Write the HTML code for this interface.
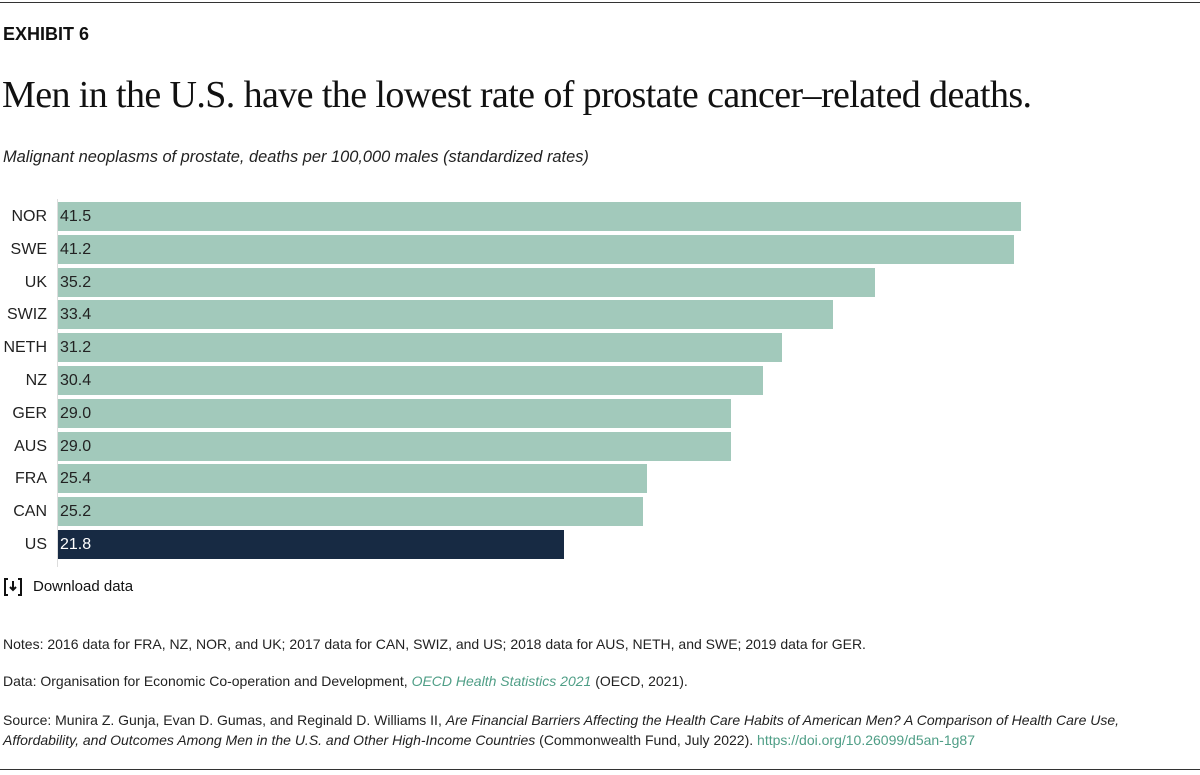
<!DOCTYPE html>
<html><head><style>
body{margin:0;width:1200px;height:775px;background:#fff;position:relative;font-family:"Liberation Sans",sans-serif;color:#222;overflow:hidden}
.a{position:absolute;white-space:nowrap}
.bar{position:absolute;left:58px;height:29px;background:#a2c9bb}
.lab{position:absolute;width:47px;text-align:right;left:0;font-size:16px;line-height:29px;color:#222}
.val{position:absolute;left:60px;font-size:16px;line-height:29px;color:#222}
</style></head><body>
<div class="a" style="left:0;top:2px;width:1200px;border-top:1.5px solid #333"></div>
<div class="a" style="left:0;top:769px;width:1200px;border-top:1.5px solid #333"></div>
<div class="a" style="left:3px;top:24px;font-size:18px;font-weight:bold;color:#111">EXHIBIT 6</div>
<div class="a" style="left:2px;top:73px;font-family:'Liberation Serif',serif;font-size:38px;color:#111;letter-spacing:-0.6px">Men in the U.S. have the lowest rate of prostate cancer–related deaths.</div>
<div class="a" style="left:3px;top:148px;font-size:16.4px;font-style:italic;color:#222">Malignant neoplasms of prostate, deaths per 100,000 males (standardized rates)</div>
<div class="a" style="left:57px;top:199px;height:368px;border-left:1px solid #ddd"></div>
<div id="c"></div>
<script>
var d=[["NOR",41.5],["SWE",41.2],["UK",35.2],["SWIZ",33.4],["NETH",31.2],["NZ",30.4],["GER",29.0],["AUS",29.0],["FRA",25.4],["CAN",25.2],["US",21.8]];
var h="";d.forEach(function(r,i){var y=202+i*32.8;var us=r[0]=="US";
h+='<div class="bar" style="top:'+y+'px;width:'+(r[1]*23.2)+'px;'+(us?'background:#172a43':'')+'"></div>';
h+='<div class="lab" style="top:'+y+'px">'+r[0]+'</div>';
h+='<div class="val" style="top:'+y+'px;'+(us?'color:#fff':'')+'">'+r[1].toFixed(1)+'</div>';});
document.getElementById("c").innerHTML=h;
</script>
<svg class="a" style="left:3px;top:577px" width="20" height="20" viewBox="0 0 20 20"><path d="M5 2H2V18H5M15 2H18V18H15" fill="none" stroke="#111" stroke-width="2"/><path d="M10 4V13M7 10L10 13L13 10" fill="none" stroke="#111" stroke-width="2"/></svg>
<div class="a" style="left:33px;top:578px;font-size:15px;color:#111">Download data</div>
<div class="a" style="left:3px;top:636px;font-size:14px;color:#222">Notes: 2016 data for FRA, NZ, NOR, and UK; 2017 data for CAN, SWIZ, and US; 2018 data for AUS, NETH, and SWE; 2019 data for GER.</div>
<div class="a" style="left:3px;top:673px;font-size:14px;color:#222">Data: Organisation for Economic Co-operation and Development, <i style="color:#4f9e86">OECD Health Statistics 2021</i> (OECD, 2021).</div>
<div class="a" style="left:3px;top:710px;font-size:14px;color:#222;line-height:20px">Source: Munira Z. Gunja, Evan D. Gumas, and Reginald D. Williams II, <i>Are Financial Barriers Affecting the Health Care Habits of American Men? A Comparison of Health Care Use,</i><br><i>Affordability, and Outcomes Among Men in the U.S. and Other High-Income Countries</i> (Commonwealth Fund, July 2022). <span style="color:#4f9e86">https://doi.org/10.26099/d5an-1g87</span></div>
</body></html>
